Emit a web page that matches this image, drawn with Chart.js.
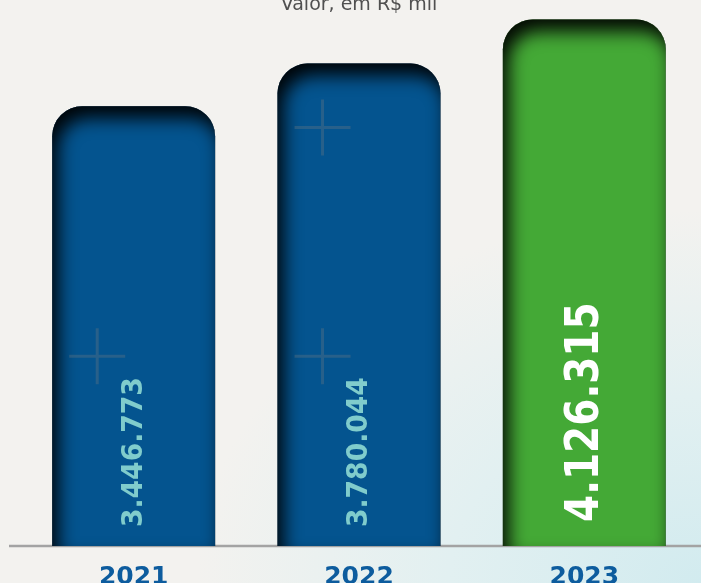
<!DOCTYPE html>
<html>
<head>
<meta charset="utf-8">
<script src="https://cdn.jsdelivr.net/npm/chart.js@4/dist/chart.umd.min.js"></script>
<style>
  html, body { margin: 0; padding: 0; }
  body {
    width: 701px; height: 583px; overflow: hidden;
    background: radial-gradient(ellipse 90% 80% at 100% 100%, #d2ebef 0%, #e2f0f1 40%, #f3f2ef 80%);
  }
  #wrap { position: relative; width: 701px; height: 608px; }
</style>
</head>
<body>
<div id="wrap"><canvas id="chart"></canvas></div>
<script>
const years = ["2021", "2022", "2023"];
const values = [3446773, 3780044, 4126315];
const valueLabels = ["3.446.773", "3.780.044", "4.126.315"];
const barColors = ["#04548f", "#04548f", "#44a936"];
const labelColors = ["#80cccc", "#80cccc", "#ffffff"];
const labelSizes = [28, 28, 47];
const labelSqueeze = [0.95, 0.95, 0.83];
const titleText = "Valor, em R$ mil";

// dark inset shadow along the top and left edges of each bar
const innerShadow = {
  id: "innerShadow",
  afterDatasetsDraw(chart) {
    const ctx = chart.ctx;
    chart.getDatasetMeta(0).data.forEach(bar => {
      const p = bar.getProps(["x", "y", "base", "width"], true);
      const left = p.x - p.width / 2;
      ctx.save();
      ctx.beginPath();
      ctx.roundRect(left, p.y, p.width, p.base - p.y, [30, 30, 0, 0]);
      ctx.clip();
      ctx.beginPath();
      ctx.rect(left - 200, p.y - 200, p.width + 400, p.base - p.y + 400);
      ctx.roundRect(left, p.y, p.width, p.base - p.y, [30, 30, 0, 0]);
      ctx.shadowColor = "rgba(0,0,0,0.95)";
      ctx.shadowBlur = 18;
      ctx.shadowOffsetX = 6;
      ctx.shadowOffsetY = 12;
      ctx.fillStyle = "#000";
      ctx.fill("evenodd");
      ctx.restore();
    });
  }
};

// faint crosses on the blue bars
const crosses = {
  id: "crosses",
  afterDatasetsDraw(chart) {
    const ctx = chart.ctx;
    const bars = chart.getDatasetMeta(0).data;
    const area = chart.chartArea;
    const spots = [[0, 0.646], [1, 0.219], [1, 0.646]];
    ctx.save();
    ctx.strokeStyle = "rgba(110,120,130,0.35)";
    ctx.lineWidth = 3;
    spots.forEach(([i, f]) => {
      const b = bars[i];
      const cx = b.x - b.width / 2 + 45;
      const cy = area.top + (area.bottom - area.top) * f;
      ctx.beginPath();
      ctx.moveTo(cx - 28, cy); ctx.lineTo(cx + 28, cy);
      ctx.moveTo(cx, cy - 28); ctx.lineTo(cx, cy + 28);
      ctx.stroke();
    });
    ctx.restore();
  }
};

// rotated value labels inside the bars
const valueText = {
  id: "valueText",
  afterDatasetsDraw(chart) {
    const ctx = chart.ctx;
    chart.getDatasetMeta(0).data.forEach((bar, i) => {
      ctx.save();
      ctx.translate(bar.x + 1, bar.base - (i === 2 ? 24 : 19));
      ctx.rotate(-Math.PI / 2);
      ctx.scale(labelSqueeze[i], 1);
      ctx.font = "bold " + labelSizes[i] + "px 'DejaVu Sans'";
      ctx.fillStyle = labelColors[i];
      ctx.textAlign = "left";
      ctx.textBaseline = "middle";
      ctx.fillText(valueLabels[i], 0, 0);
      ctx.restore();
    });
  }
};

// grey baseline running under the bars, plus the caption at the top
const frame = {
  id: "frame",
  beforeDatasetsDraw(chart) {
    const ctx = chart.ctx;
    const area = chart.chartArea;
    ctx.save();
    ctx.strokeStyle = "#a3a3a3";
    ctx.lineWidth = 2.5;
    ctx.beginPath();
    ctx.moveTo(9, area.bottom);
    ctx.lineTo(chart.width, area.bottom);
    ctx.stroke();
    ctx.restore();
  },
  afterDraw(chart) {
    const ctx = chart.ctx;
    const area = chart.chartArea;
    ctx.save();
    ctx.font = "19px 'DejaVu Sans'";
    ctx.fillStyle = "#505050";
    ctx.textAlign = "center";
    ctx.textBaseline = "alphabetic";
    ctx.fillText(titleText, (area.left + area.right) / 2, 10);
    ctx.restore();
  }
};

new Chart(document.getElementById("chart"), {
  type: "bar",
  data: {
    labels: years,
    datasets: [{
      data: values,
      backgroundColor: barColors,
      borderRadius: { topLeft: 30, topRight: 30, bottomLeft: 0, bottomRight: 0 },
      borderSkipped: false,
      barPercentage: 0.723,
      categoryPercentage: 1
    }]
  },
  options: {
    responsive: true,
    maintainAspectRatio: false,
    animation: false,
    layout: { padding: { left: 21, right: 4, top: 10, bottom: 0 } },
    plugins: {
      legend: { display: false },
      tooltip: { enabled: false }
    },
    scales: {
      x: {
        grid: { display: false, drawTicks: false },
        border: { display: false },
        ticks: {
          color: "#0d5c9e",
          padding: 16,
          font: { family: "'DejaVu Sans'", size: 25, weight: "bold", lineHeight: 1.2 }
        }
      },
      y: {
        display: false,
        min: 0,
        max: 4200000
      }
    }
  },
  plugins: [frame, innerShadow, crosses, valueText]
});
</script>
</body>
</html>
